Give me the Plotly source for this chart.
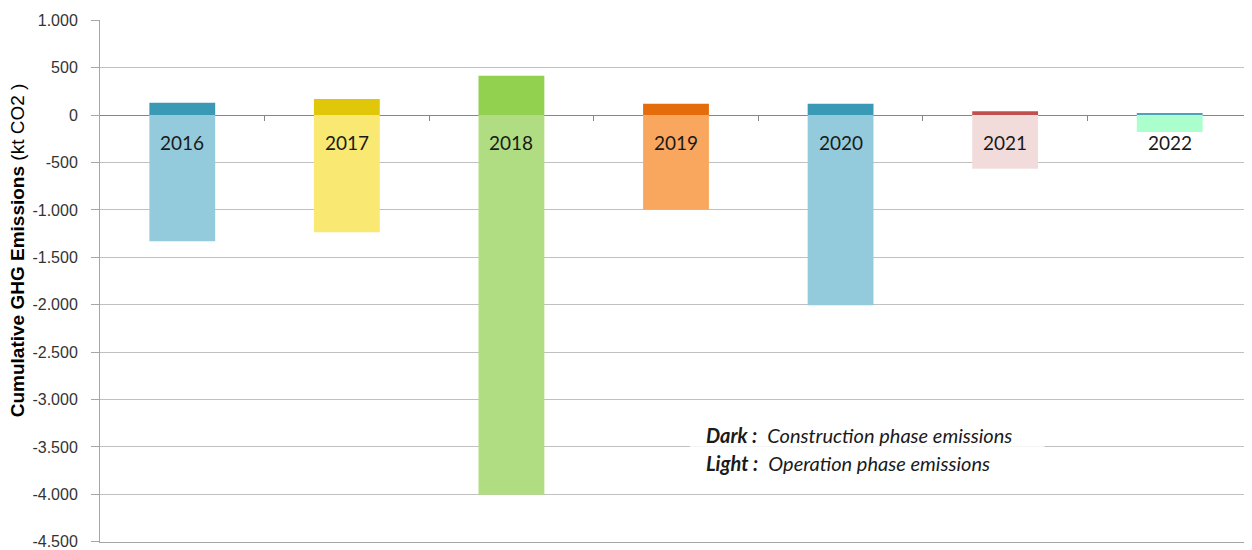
import plotly.graph_objects as go

years = ["2016", "2017", "2018", "2019", "2020", "2021", "2022"]
construction = [130, 170, 415, 120, 120, 40, 22]
operation = [-1330, -1235, -4005, -995, -2005, -565, -178]
dark_colors = ["#3a9ab5", "#e0c70a", "#92d050", "#e46c0a", "#3a9ab5", "#c0504d", "#4aa3b8"]
light_colors = ["#93cbdc", "#f9e872", "#b0dc82", "#f9a65f", "#93cbdc", "#f2dcdb", "#aaffcc"]
label_y = -290
y_ticks = [1000, 500, 0, -500, -1000, -1500, -2000, -2500, -3000, -3500, -4000, -4500]


def fmt(v):
    s = f"{abs(v):,}".replace(",", ".")
    return ("-" if v < 0 else "") + s


fig = go.Figure()
fig.add_trace(go.Bar(x=years, y=construction, marker=dict(color=dark_colors, line=dict(width=0)),
                     width=0.4, hoverinfo="skip", showlegend=False))
fig.add_trace(go.Bar(x=years, y=operation, marker=dict(color=light_colors, line=dict(width=0)),
                     width=0.4, hoverinfo="skip", showlegend=False))
# helper trace for category boundary ticks on the zero line
fig.add_trace(go.Scatter(x=[-0.5, 6.5], y=[0, 0], xaxis="x2", mode="lines",
                         line=dict(width=0, color="rgba(0,0,0,0)"), hoverinfo="skip", showlegend=False))

for i, yr in enumerate(years):
    fig.add_annotation(x=i, y=label_y, text=yr, showarrow=False,
                       font=dict(family="Lato", size=19, color="#1a1a1a"))

ymin, ymax = -4503, 1003
fig.update_layout(
    width=1244, height=542,
    margin=dict(l=92, r=0, t=12, b=8, autoexpand=False),
    paper_bgcolor="white", plot_bgcolor="white",
    barmode="relative",
    xaxis=dict(type="category", range=[-0.5, 6.5], showticklabels=False, showgrid=False,
               zeroline=False, showline=True, linecolor="#a6a6a6", linewidth=1, ticks=""),
    xaxis2=dict(overlaying="x", anchor="free", position=(0 - ymin) / (ymax - ymin), side="bottom",
                range=[-0.5, 6.5], tickvals=[0.5, 1.5, 2.5, 3.5, 4.5, 5.5], showticklabels=False,
                ticks="outside", ticklen=5, tickcolor="#868686", tickwidth=1,
                showgrid=False, zeroline=False, showline=False),
    yaxis=dict(range=[ymin, ymax], tickvals=y_ticks, ticktext=[fmt(v) for v in y_ticks],
               showgrid=True, gridcolor="#c0c0c0", gridwidth=1,
               zeroline=True, zerolinecolor="#868686", zerolinewidth=1,
               showline=True, linecolor="#a6a6a6", linewidth=1,
               ticks="outside", ticklen=8, tickcolor="#a6a6a6",
               ticklabelstandoff=10, ticklabeloverflow="allow",
               tickfont=dict(family="Liberation Sans", size=16, color="#333333")),
)

fig.add_annotation(xref="paper", yref="paper", x=-0.072, y=0.559, xanchor="center", yanchor="middle",
                   textangle=-90, showarrow=False,
                   text="<b>Cumulative GHG Emissions</b> (kt CO2 )",
                   font=dict(family="Liberation Sans", size=19, color="#000000"))

# note box
fig.add_shape(type="rect", xref="paper", yref="paper", x0=0.512, x1=0.820, y0=0.123, y1=0.234,
              fillcolor="rgba(255,255,255,0.82)", line=dict(width=0), layer="above")
fig.add_annotation(xref="paper", yref="paper", x=0.524, y=0.205, xanchor="left", yanchor="middle",
                   text="<b><i>Dark :</i></b>  <i>Construction phase emissions</i>", showarrow=False,
                   font=dict(family="Lato", size=20, color="#1a1a1a"))
fig.add_annotation(xref="paper", yref="paper", x=0.524, y=0.151, xanchor="left", yanchor="middle",
                   text="<b><i>Light :</i></b>  <i>Operation phase emissions</i>", showarrow=False,
                   font=dict(family="Lato", size=20, color="#1a1a1a"))

fig.write_html("out.html")
